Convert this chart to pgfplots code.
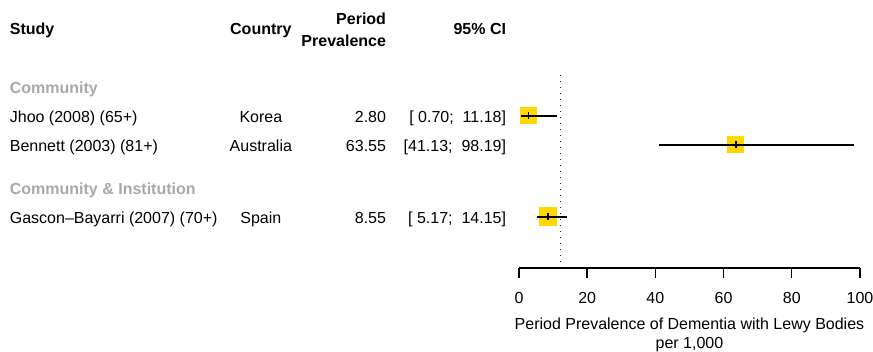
\documentclass[border=0pt]{standalone}
\usepackage{fontspec}
\setmainfont{Liberation Sans}
\usepackage{pgfplots}
\pgfplotsset{compat=1.18}
\definecolor{boxyellow}{HTML}{FFD800}
\definecolor{hdrgray}{HTML}{A8A8A8}
\newcommand{\fs}{\fontsize{16}{18}\selectfont}
\tikzset{lab/.style={inner sep=0pt, outer sep=0pt, font=\fs}, hlab/.style={inner sep=0pt, outer sep=0pt, font=\fs\bfseries}}
\begin{document}
\fs
\begin{tikzpicture}
\begin{axis}[
  scale only axis,
  width=341pt, height=268pt,
  xmin=0, xmax=100, ymin=0, ymax=268,
  clip=false,
  axis x line*=bottom,
  axis y line=none,
  x axis line style={-, line width=1.4pt},
  xtick={0,20,40,60,80,100},
  xtick align=outside,
  major tick length=10pt,
  xtick style={line width=1.4pt, black},
  /pgf/number format/assume math mode=true,
  xticklabel style={font=\fs, inner sep=0pt, anchor=north, yshift=-14.5pt},
  xlabel={Period Prevalence of Dementia with Lewy Bodies\\[1pt]per 1,000},
  xlabel style={font=\fs, align=center, inner sep=0pt, anchor=north, at={(axis description cs:0.5,0)}, yshift=-50pt},
]
% pooled estimate (dotted reference line)
\addplot[black!85, line width=1.6pt, dash pattern=on 1.4pt off 4.6pt] coordinates {(12.2,6) (12.2,194)};
% squares (box size from study weight)
\addplot[fill=boxyellow, draw=none] coordinates {(0.38,144.25) (5.22,144.25) (5.22,160.75) (0.38,160.75)};
\addplot[fill=boxyellow, draw=none] coordinates {(60.98,114.75) (66.12,114.75) (66.12,132.25) (60.98,132.25)};
\addplot[fill=boxyellow, draw=none] coordinates {(5.84,42.25) (11.26,42.25) (11.26,60.75) (5.84,60.75)};
% CIs
\addplot[black, line width=2pt] coordinates {(0.70,152.5) (11.18,152.5)};
\addplot[black, line width=2pt] coordinates {(41.13,123.5) (98.19,123.5)};
\addplot[black, line width=2pt] coordinates {(5.17,51.5) (14.15,51.5)};
% point estimates
\addplot[black, line width=1.7pt] coordinates {(2.80,149) (2.80,156)};
\addplot[black, line width=1.7pt] coordinates {(63.55,120) (63.55,127)};
\addplot[black, line width=1.7pt] coordinates {(8.55,48) (8.55,55)};
% headers
\node[hlab, anchor=mid west] at (axis cs:-149.3,237.5) {Study};
\node[hlab, anchor=mid] at (axis cs:-75.7,237.5) {Country};
\node[hlab, anchor=mid east] at (axis cs:-39.0,247.5) {Period};
\node[hlab, anchor=mid east] at (axis cs:-39.0,225.5) {Prevalence};
\node[hlab, anchor=mid east] at (axis cs:-3.8,237.5) {95\% CI};
% group headers
\node[hlab, anchor=mid west, text=hdrgray] at (axis cs:-149.3,178.5) {Community};
\node[hlab, anchor=mid west, text=hdrgray] at (axis cs:-149.3,77.5) {Community \& Institution};
% rows
\node[lab, anchor=mid west] at (axis cs:-149.3,150) {Jhoo (2008) (65+)};
\node[lab, anchor=mid] at (axis cs:-75.7,150) {Korea};
\node[lab, anchor=mid east] at (axis cs:-39.0,150) {2.80};
\node[lab, anchor=mid east] at (axis cs:-3.8,150) {[ 0.70;\ \ 11.18]};
\node[lab, anchor=mid west] at (axis cs:-149.3,121) {Bennett (2003) (81+)};
\node[lab, anchor=mid] at (axis cs:-75.7,121) {Australia};
\node[lab, anchor=mid east] at (axis cs:-39.0,121) {63.55};
\node[lab, anchor=mid east] at (axis cs:-3.8,121) {[41.13;\ \ 98.19]};
\node[lab, anchor=mid west] at (axis cs:-149.3,49) {Gascon--Bayarri (2007) (70+)};
\node[lab, anchor=mid] at (axis cs:-75.7,49) {Spain};
\node[lab, anchor=mid east] at (axis cs:-39.0,49) {8.55};
\node[lab, anchor=mid east] at (axis cs:-3.8,49) {[ 5.17;\ \ 14.15]};
\end{axis}
\pgfresetboundingbox
\path[use as bounding box] (-519pt,-83pt) rectangle (354pt,268pt);
\end{tikzpicture}
\end{document}
